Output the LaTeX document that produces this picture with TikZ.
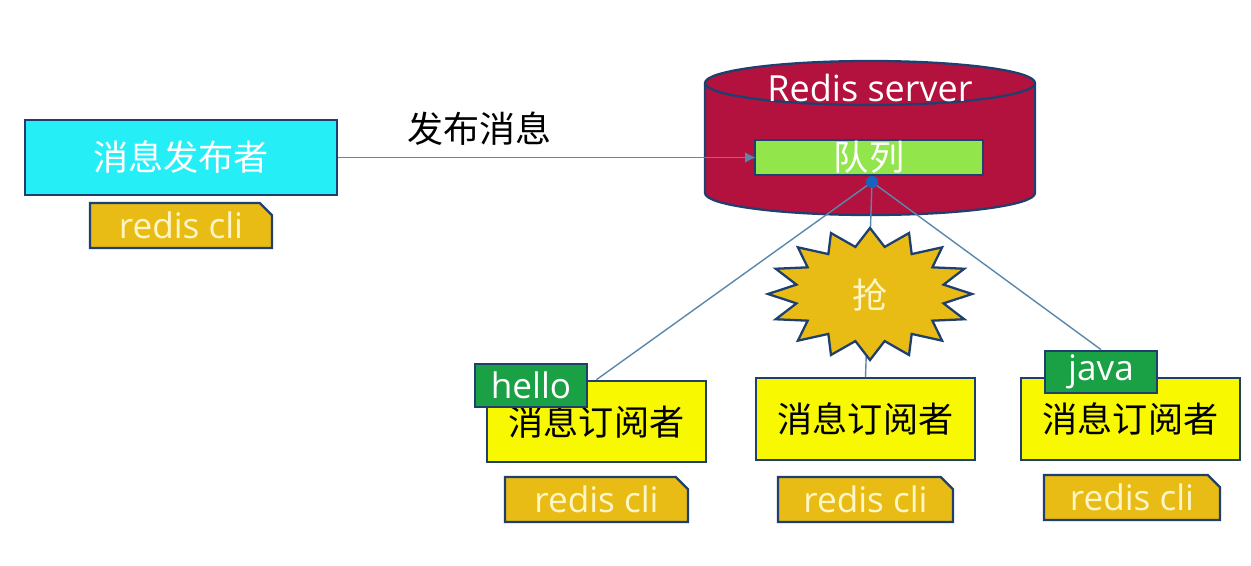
\documentclass[tikz,border=0pt]{standalone}
\usepackage{fontspec}
\setmainfont{Open Sans}
\newfontfamily\cjk{Noto Sans CJK SC}
\usetikzlibrary{shapes.misc,arrows.meta}
\definecolor{edge}{HTML}{1F3F6E}
\definecolor{wirec}{HTML}{5A88AC}
\definecolor{pubcyan}{HTML}{26EEF7}
\definecolor{gold}{HTML}{E8BC14}
\definecolor{cream}{HTML}{FFF6C8}
\definecolor{crimson}{HTML}{B3123F}
\definecolor{qgreen}{HTML}{92E64C}
\definecolor{subyel}{HTML}{F8F800}
\definecolor{taggreen}{HTML}{1AA045}
\definecolor{hubblue}{HTML}{1565C0}
\begin{document}
\begin{tikzpicture}[x=.02cm,y=.02cm,
  box/.style={draw=edge,line width=1.3pt,inner sep=0pt,font=\fontsize{20}{24}\selectfont},
  cli/.style={box,fill=gold,text=cream,chamfered rectangle,chamfered rectangle corners=north east,
    chamfered rectangle xsep=3.5pt,chamfered rectangle ysep=3.5pt,minimum height=.9cm},
  sub/.style={box,fill=subyel,minimum width=4.38cm,minimum height=1.63cm},
  tag/.style={box,fill=taggreen,text=white,minimum width=2.24cm,minimum height=.85cm},
  wire/.style={draw=wirec,line width=.8pt}]
\useasboundingbox (0,0) rectangle (1251,-565);
% server drum
\coordinate (hub) at (872,-182);
\fill[crimson] (705,-83) -- (705,-193) arc[start angle=180,end angle=360,x radius=165,y radius=22] -- (1035,-83) -- cycle;
\draw[edge,line width=1.3pt] (705,-83) -- (705,-193) arc[start angle=180,end angle=360,x radius=165,y radius=22] -- (1035,-83);
\draw[edge,line width=1.3pt,fill=crimson] (870,-83) ellipse[x radius=165,y radius=22];
\node[font=\fontsize{20.5}{24}\selectfont,text=white] (server) at (870,-88) {Redis server};
\node[box,fill=qgreen,text=white,minimum width=4.56cm,minimum height=.7cm] (queue) at (869,-157.5) {\cjk 队列};
% publisher
\node[box,fill=pubcyan,text=white,minimum width=6.24cm,minimum height=1.5cm] (pub) at (181,-157.5) {\cjk 消息发布者};
\node[cli,minimum width=3.64cm] (cli0) at (181,-225.5) {redis cli};
% subscribers
\node[sub] (sub1) at (596.5,-421.5) {\cjk 消息订阅者};
\node[sub] (sub2) at (865.5,-419) {\cjk 消息订阅者};
\node[sub] (sub3) at (1130.5,-419) {\cjk 消息订阅者};
\node[cli,minimum width=3.66cm] (cli1) at (596.5,-499.5) {redis cli};
\node[cli,minimum width=3.5cm] (cli2) at (865.5,-499.5) {redis cli};
\node[cli,minimum width=3.52cm] (cli3) at (1132,-497.5) {redis cli};
\node[tag] (hello) at (531,-385.5) {hello};
\node[tag] (java) at (1101,-372) {java};
% connectors
\draw[wire,-{Latex[length=6pt,width=6pt]},shorten >=-1pt] (pub.east) -- (queue.west)
  node[pos=.34,above=3pt,text=black,font=\fontsize{20.5}{24}\selectfont\cjk] (pubmsg) {发布消息};
\draw[wire] (hub) -- (sub1.north);
\draw[wire] (hub) -- (sub2.north);
\draw[wire] (hub) -- (java.north);
% burst
\draw[edge,line width=1.3pt,fill=gold] plot[domain=0:31,samples=32,variable=\k]
  ({870+(102-27*mod(round(\k),2))*cos(90+11.25*\k)},{-294+(66-18*mod(round(\k),2))*sin(90+11.25*\k)}) -- cycle;
\node[text=cream,font=\fontsize{20}{24}\selectfont\cjk] (grab) at (870,-295) {抢};
\fill[hubblue] (hub) circle (6);
\end{tikzpicture}
\end{document}
